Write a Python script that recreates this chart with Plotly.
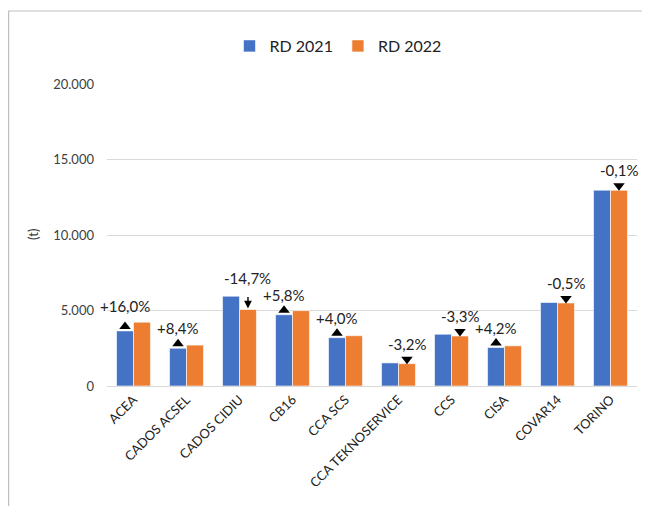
import plotly.graph_objects as go

categories = ["ACEA", "CADOS ACSEL", "CADOS CIDIU", "CB16", "CCA SCS",
              "CCA TEKNOSERVICE", "CCS", "CISA", "COVAR14", "TORINO"]
rd2021 = [3650, 2500, 5950, 4720, 3200, 1530, 3430, 2550, 5530, 12970]
rd2022 = [4230, 2710, 5070, 4990, 3330, 1480, 3310, 2660, 5500, 12960]
pct_labels = ["+16,0%", "+8,4%", "-14,7%", "+5,8%", "+4,0%",
              "-3,2%", "-3,3%", "+4,2%", "-0,5%", "-0,1%"]
marker_kind = ["tri", "tri", "line", "tri", "tri", "tri", "tri", "tri", "tri", "tri"]
yticks = [0, 5000, 10000, 15000, 20000]
ytick_text = ["0", "5.000", "10.000", "15.000", "20.000"]

FONT = "Lato, 'Open Sans', sans-serif"
xs = list(range(len(categories)))

# page body has an 8px default margin; the figure is sized/offset to compensate
W, H = 642, 498
ML, MR, MT, MB = 99, 13, 76, 120
PW, PH = W - ML - MR, H - MT - MB

fig = go.Figure()
fig.add_trace(go.Bar(x=xs, y=rd2021, name="RD 2021", marker_color="#4472C4",
                     marker_line=dict(color="white", width=0.6)))
fig.add_trace(go.Bar(x=xs, y=rd2022, name="RD 2022", marker_color="#ED7D31",
                     marker_line=dict(color="white", width=0.6)))

half = 0.16
annotations = []
mx, my, msym = [], [], []
for i, lab in enumerate(pct_labels):
    up = lab.startswith("+")
    x = i - half if up else i + half
    y = rd2021[i] if up else rd2022[i]
    if marker_kind[i] == "line":
        annotations.append(dict(x=x, y=y, xref="x", yref="y", text="", showarrow=True,
                                ax=0, ay=-14, arrowhead=2, arrowsize=1.1, arrowwidth=1.4,
                                arrowcolor="black", standoff=1))
        shift = 20
    else:
        mx.append(x)
        my.append(y)
        # rotated by 180 deg below, so that the standoff pushes the marker upward
        msym.append("triangle-down" if up else "triangle-up")
        shift = 14 if i == 0 else 9
    annotations.append(dict(x=x, y=y, xref="x", yref="y", text=lab,
                            showarrow=False, yanchor="bottom", yshift=shift,
                            font=dict(family=FONT, size=15, color="#222222")))

fig.add_trace(go.Scatter(x=mx, y=my, mode="markers", showlegend=False, hoverinfo="skip",
                         marker=dict(symbol=msym, size=10, color="black", angle=180,
                                     standoff=4.5, line=dict(width=0)),
                         cliponaxis=False))

annotations.append(dict(x=(25 - ML) / PW, y=0.5, xref="paper", yref="paper", text="(t)",
                        textangle=-90, showarrow=False, xanchor="center", yanchor="middle",
                        font=dict(family=FONT, size=13, color="#404040")))

fig.update_layout(
    width=W, height=H,
    margin=dict(l=ML, r=MR, t=MT, b=MB),
    paper_bgcolor="white", plot_bgcolor="white",
    barmode="group", bargap=0.36, bargroupgap=0,
    font=dict(family=FONT, size=13, color="#404040"),
    legend=dict(orientation="h", x=(338 - ML - 8) / PW, xanchor="center",
                y=(PH + MT - 38) / PH, yanchor="middle",
                font=dict(family=FONT, size=16, color="#222222"),
                itemwidth=30, traceorder="normal"),
    xaxis=dict(tickmode="array", tickvals=xs, ticktext=categories, tickangle=-45,
               range=[-0.5, len(categories) - 0.5], showgrid=False,
               showline=True, linecolor="#d9d9d9", linewidth=1,
               tickfont=dict(family=FONT, size=13, color="#222222"), ticks=""),
    yaxis=dict(range=[0, 20000], tickvals=yticks, ticktext=ytick_text,
               showgrid=True, gridcolor="#d9d9d9", gridwidth=1, zeroline=False,
               tickfont=dict(family=FONT, size=13, color="#404040"), ticks="",
               ticklabelstandoff=12),
    annotations=annotations,
    shapes=[dict(type="rect", xref="paper", yref="paper",
                 x0=(0.6 - ML) / PW, x1=(637 - ML) / PW,
                 y0=(PH + MT - 520) / PH, y1=(PH + MT - 3) / PH,
                 line=dict(color="#bfbfbf", width=1.2), fillcolor="rgba(0,0,0,0)",
                 layer="below")],
)

fig.write_html("out.html")
